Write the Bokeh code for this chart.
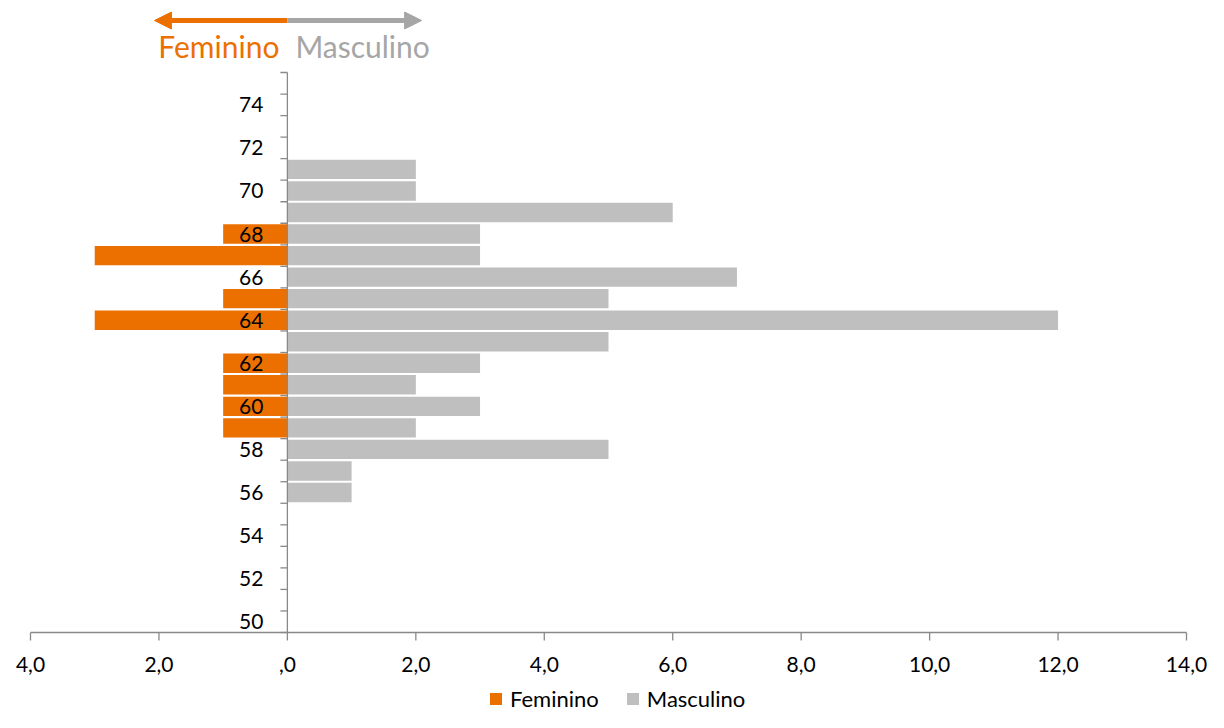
from bokeh.plotting import figure
from bokeh.models import Range1d, Label, Arrow, NormalHead, Legend, LegendItem
from bokeh.core.properties import value
from bokeh.embed import file_html
from bokeh.resources import INLINE

# ---- data ----
ages = [56, 57, 58, 59, 60, 61, 62, 63, 64, 65, 66, 67, 68, 69, 70, 71]
masculino = [1, 1, 5, 2, 3, 2, 3, 5, 12, 5, 7, 3, 3, 6, 2, 2]
feminino = [0, 0, 0, 1, 1, 1, 1, 0, 3, 1, 0, 3, 1, 0, 0, 0]
age_first, age_last = 50, 75
age_labels = [50, 52, 54, 56, 58, 60, 62, 64, 66, 68, 70, 72, 74]
x_ticks = [-4, -2, 0, 2, 4, 6, 8, 10, 12, 14]
x_tick_labels = ["4,0", "2,0", ",0", "2,0", "4,0", "6,0", "8,0", "10,0", "12,0", "14,0"]
series_names = ["Feminino", "Masculino"]

# ---- styles / layout (pixels) ----
ORANGE = "#EC7000"
GRAY = "#BFBFBF"
ARROW_GRAY = "#A6A6A6"
AXIS = "#898989"
FONT = "Lato"

W, H = 1208, 712
AX_LEFT, AX_RIGHT = 30, 1186        # pixel span of x axis
AX_BOTTOM, AX_TOP = 632, 72         # pixel rows of y-axis ends (from top)

x0, x1 = x_ticks[0], x_ticks[-1]
px_per_x = (AX_RIGHT - AX_LEFT) / (x1 - x0)
y_lo = age_first - 0.5
y_hi = age_last + 0.5
px_per_y = (AX_BOTTOM - AX_TOP) / (y_hi - y_lo)
x_start = x0 - AX_LEFT / px_per_x
x_end = x1 + (W - AX_RIGHT) / px_per_x
y_start = y_lo - (H - AX_BOTTOM) / px_per_y
y_end = y_hi + AX_TOP / px_per_y

p = figure(width=W, height=H, x_range=Range1d(x_start, x_end), y_range=Range1d(y_start, y_end),
           output_backend="svg", toolbar_location=None, x_axis_location=None,
           y_axis_location=None, min_border=0)
p.outline_line_color = None
p.xgrid.visible = False
p.ygrid.visible = False
p.background_fill_color = "white"

fem_neg = [-v for v in feminino]
rf = p.hbar(y=ages, left=fem_neg, right=[0] * len(ages), height=0.9,
            fill_color=ORANGE, line_color=None)
rm = p.hbar(y=ages, left=[0] * len(ages), right=masculino, height=0.9,
            fill_color=GRAY, line_color=None)

# y axis at x = 0
bounds = [a - 0.5 for a in range(age_first, age_last + 2)]
ytick_len = 7 / px_per_x
p.segment(x0=[0], y0=[y_lo], x1=[0], y1=[y_hi], line_color=AXIS, line_width=1.3)
p.segment(x0=[-ytick_len] * len(bounds), y0=bounds, x1=[0] * len(bounds), y1=bounds,
          line_color=AXIS, line_width=1.3)
p.text(x=[0] * len(age_labels), y=age_labels, text=[str(a) for a in age_labels],
       x_offset=-24, text_align="right", text_baseline="middle",
       text_font=value(FONT), text_font_size="21px", text_color="black")

# x axis along the bottom of the age range
xtick_len = 8 / px_per_y
p.segment(x0=[x0], y0=[y_lo], x1=[x1], y1=[y_lo], line_color=AXIS, line_width=1.3)
p.segment(x0=x_ticks, y0=[y_lo] * len(x_ticks), x1=x_ticks, y1=[y_lo - xtick_len] * len(x_ticks),
          line_color=AXIS, line_width=1.3)
p.text(x=x_ticks, y=[y_lo] * len(x_ticks), text=x_tick_labels,
       y_offset=32, text_align="center", text_baseline="middle",
       text_font=value(FONT), text_font_size="21px", text_color="black")

# direction annotation
y_arrow = y_end - 20 / px_per_y
y_text = y_end - 45 / px_per_y
p.add_layout(Arrow(x_start=0, y_start=y_arrow, x_end=-2.07, y_end=y_arrow,
                   line_color=ORANGE, line_width=5,
                   end=NormalHead(size=17, fill_color=ORANGE, line_color=ORANGE)))
p.add_layout(Arrow(x_start=0, y_start=y_arrow, x_end=2.09, y_end=y_arrow,
                   line_color=ARROW_GRAY, line_width=5,
                   end=NormalHead(size=17, fill_color=ARROW_GRAY, line_color=ARROW_GRAY)))
p.add_layout(Label(x=0, y=y_text, x_offset=-8, text=series_names[0], text_align="right",
                   text_baseline="middle", text_font=FONT, text_font_size="30px",
                   text_color=ORANGE))
p.add_layout(Label(x=0, y=y_text, x_offset=8, text=series_names[1], text_align="left",
                   text_baseline="middle", text_font=FONT, text_font_size="30px",
                   text_color=ARROW_GRAY))

legend = Legend(items=[LegendItem(label=series_names[0], renderers=[rf]),
                       LegendItem(label=series_names[1], renderers=[rm])],
                orientation="horizontal", location=(488, 0),
                label_text_font=FONT, label_text_font_size="22px", label_text_color="black",
                glyph_width=15, glyph_height=15, label_standoff=7, spacing=26,
                border_line_color=None, background_fill_alpha=0, padding=2, margin=0)
p.add_layout(legend, "center")

open("out.html", "w").write(file_html(p, INLINE))
